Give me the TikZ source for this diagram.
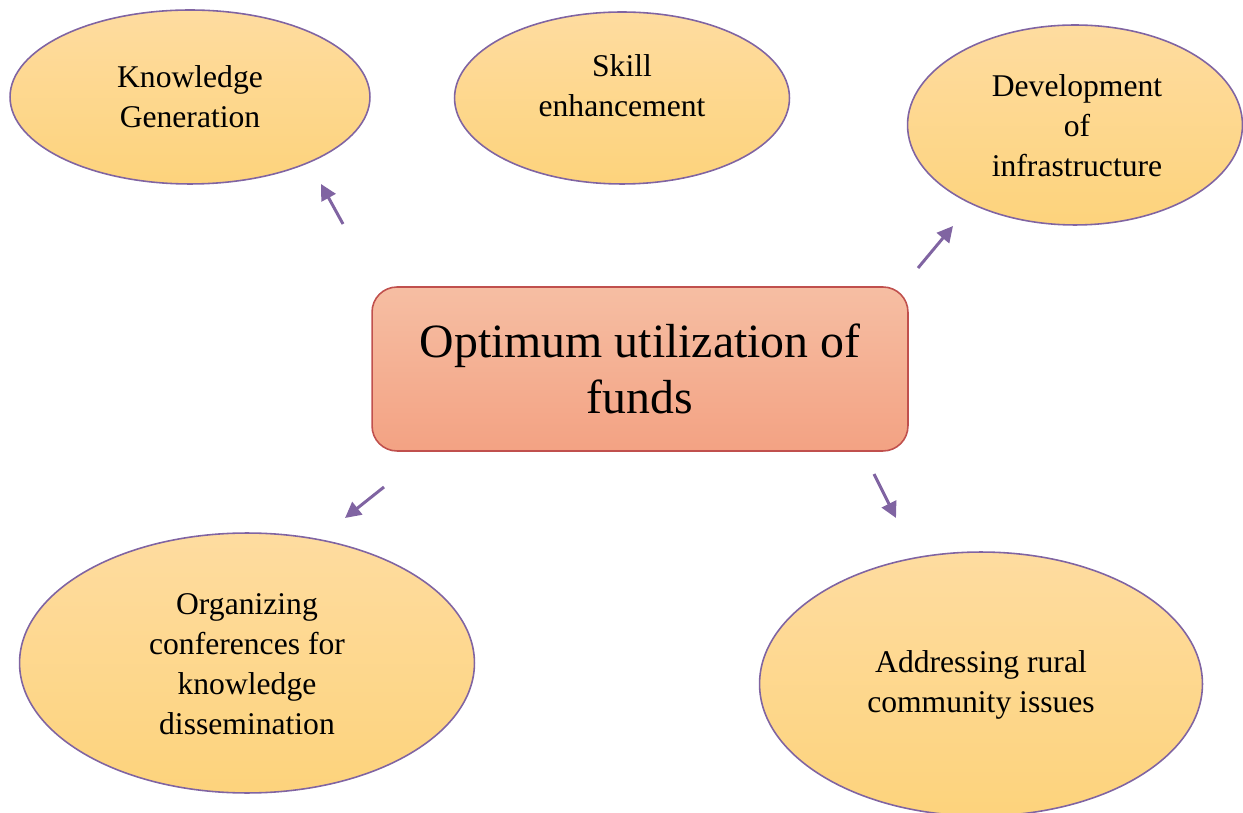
\documentclass[tikz,border=0pt]{standalone}
\usepackage{fontspec}
\setmainfont{Liberation Serif}
\usetikzlibrary{shapes.geometric,arrows.meta}
\definecolor{ellborder}{HTML}{8064A2}
\definecolor{elltop}{HTML}{FEDCA0}
\definecolor{ellbot}{HTML}{FDD37C}
\definecolor{boxtop}{HTML}{F6BEA3}
\definecolor{boxbot}{HTML}{F3A283}
\definecolor{boxborder}{HTML}{C0504D}
\definecolor{arrcol}{HTML}{8064A2}
\tikzset{
  bubble/.style={ellipse, draw=ellborder, line width=0.9pt, top color=elltop, bottom color=ellbot, inner sep=0pt},
  bubbletext/.style={align=center, font=\fontsize{18pt}{22.7pt}\selectfont, inner sep=0pt},
  centrebox/.style={rounded corners=0.5cm, draw=boxborder, line width=0.9pt, top color=boxtop, bottom color=boxbot, minimum width=10.72cm, minimum height=3.28cm, align=center, font=\fontsize{27.2pt}{31.7pt}\selectfont},
  pointer/.style={draw=arrcol, line width=1.7pt, -{Triangle[length=9pt,width=9pt]}}
}
\begin{document}
\begin{tikzpicture}[x=0.02cm,y=-0.02cm]
\useasboundingbox (0,0) rectangle (1243,813);
% ellipses
\node[bubble, minimum width=7.2cm, minimum height=3.48cm] (kg) at (190,97) {};
\node[bubble, minimum width=6.7cm, minimum height=3.44cm] (se) at (622,98) {};
\node[bubble, minimum width=6.7cm, minimum height=4.0cm] (di) at (1075,125) {};
\node[bubble, minimum width=9.1cm, minimum height=5.2cm] (oc) at (247,663) {};
\node[bubble, minimum width=8.86cm, minimum height=5.28cm] (ar) at (981,684) {};
% texts
\node[bubbletext] (kgt) at (190,97) {Knowledge\\Generation};
\node[bubbletext] (set) at (622,86) {Skill\\enhancement};
\node[bubbletext] (dit) at (1077,126) {Development\\of\\infrastructure};
\node[bubbletext] (oct) at (247,664) {Organizing\\conferences for\\knowledge\\dissemination};
\node[bubbletext] (art) at (981,685) {Addressing rural\\community issues};
% centre
\node[centrebox] (c) at (640,369) {Optimum utilization of\\funds};
% arrows
\coordinate (a1s) at (343,224);
\coordinate (a1e) at (321,184);
\coordinate (a2s) at (918,268);
\coordinate (a2e) at (953,226);
\coordinate (a3s) at (384,487);
\coordinate (a3e) at (345,518);
\coordinate (a4s) at (874,474);
\coordinate (a4e) at (896,518);
\draw[pointer] (a1s) -- (a1e);
\draw[pointer] (a2s) -- (a2e);
\draw[pointer] (a3s) -- (a3e);
\draw[pointer] (a4s) -- (a4e);
\end{tikzpicture}
\end{document}
